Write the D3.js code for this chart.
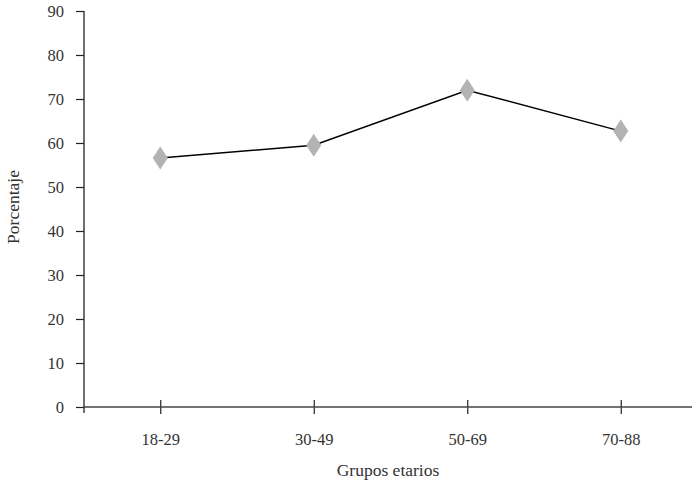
<!DOCTYPE html>
<html><head><meta charset="utf-8">
<script src="https://cdn.jsdelivr.net/npm/d3@7"></script>
<style>body{margin:0;background:#fff}svg{display:block}svg text{font-family:"Liberation Serif","DejaVu Serif",serif !important;fill:#333}</style>
</head><body><svg id="c" width="692" height="486"></svg>
<script>
const categories = ["18-29","30-49","50-69","70-88"];
const values = [56.6, 59.5, 72.0, 62.7];
const yTicks = [0,10,20,30,40,50,60,70,80,90];

const svg = d3.select("#c");
const x = d3.scalePoint().domain(categories).range([83.5, 697.5]).padding(0.5);
const y = d3.scaleLinear().domain([0, 90]).range([407, 11]);

// y axis
const ya = svg.append("g").attr("transform","translate(84,0)")
  .call(d3.axisLeft(y).tickValues(yTicks).tickSize(8).tickPadding(12));
ya.attr("font-family",null);
ya.select(".domain").remove();
ya.selectAll(".tick line").attr("stroke","#222").attr("stroke-width",1.2);
ya.selectAll(".tick text").attr("font-size",16.5).attr("fill","#333");
svg.append("line").attr("x1",84).attr("x2",84).attr("y1",y(90)).attr("y2",y(0)+6).attr("stroke","#222").attr("stroke-width",1.3);

// x axis
const xa = svg.append("g").attr("transform","translate(0,"+y(0)+")")
  .call(d3.axisBottom(x).tickSize(7).tickPadding(19));
xa.attr("font-family",null);
xa.select(".domain").remove();
xa.selectAll(".tick line").attr("stroke","#222").attr("stroke-width",1.2).attr("y1",-7);
xa.selectAll(".tick text").attr("font-size",16.5).attr("fill","#333");
svg.append("line").attr("x1",84).attr("x2",692).attr("y1",y(0)).attr("y2",y(0)).attr("stroke","#444").attr("stroke-width",1.3);

// line
svg.append("path").datum(values)
  .attr("d", d3.line().x((d,i)=>x(categories[i])).y(d=>y(d)))
  .attr("fill","none").attr("stroke","#000").attr("stroke-width",1.5);

// diamonds
svg.selectAll(".m").data(values).join("path")
  .attr("transform",(d,i)=>"translate("+x(categories[i])+","+y(d)+")")
  .attr("d","M0,-11.5L7.5,0L0,11.5L-7.5,0Z").attr("fill","#b3b3b3");

// titles
svg.append("text").attr("x",388).attr("y",476).attr("text-anchor","middle").attr("font-size",17.5).text("Grupos etarios");
svg.append("text").attr("transform","translate(19,207) rotate(-90)").attr("text-anchor","middle").attr("font-size",17.5).text("Porcentaje");
</script></body></html>
